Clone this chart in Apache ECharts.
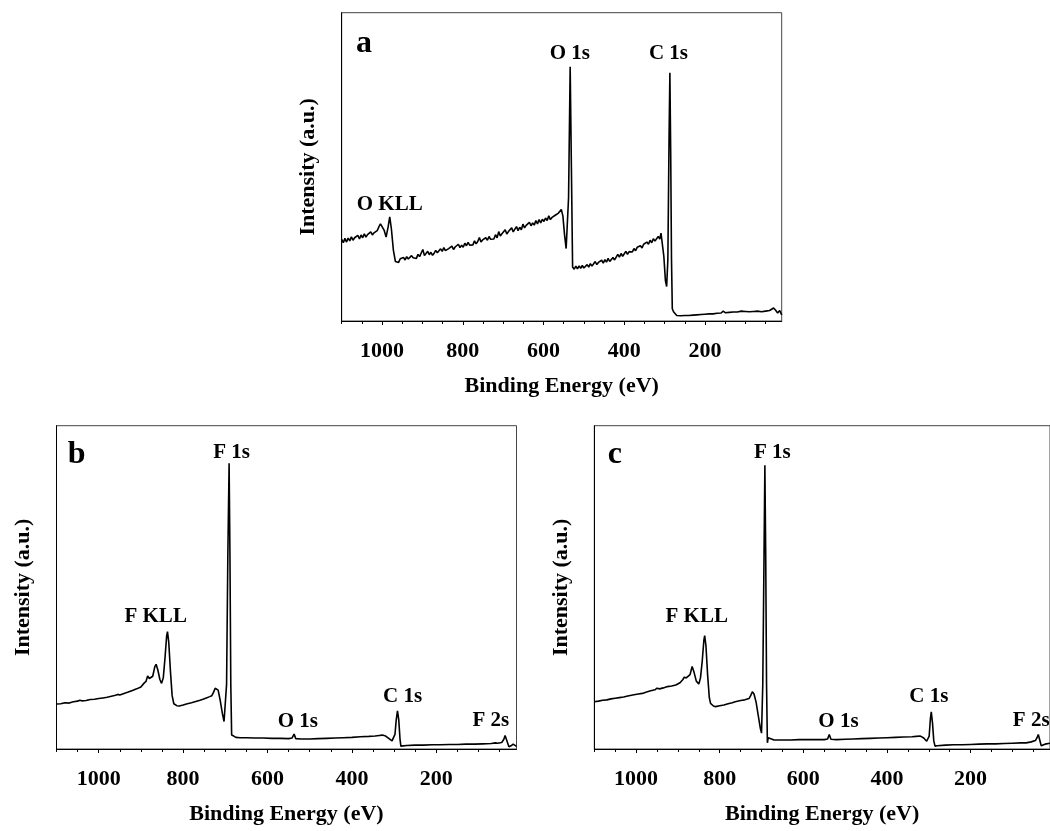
<!DOCTYPE html>
<html>
<head>
<meta charset="utf-8">
<script src="https://cdn.jsdelivr.net/npm/echarts@6/dist/echarts.min.js"></script>
<style>
html,body{margin:0;padding:0;background:#fff;}
#chart{width:1050px;height:831px;}
</style>
</head>
<body>
<div id="chart"></div>
<script>
// ---- data: [binding energy (eV), intensity (a.u., 0-100 scale)] ----
const spectrumA = [
[1100,26.5],[1096,25.4],[1092,26.8],[1088,25.6],[1084,26.9],[1080,26.0],[1076,27.3],[1072,26.2],[1068,27.0],[1064,26.4],
[1060,27.8],[1056,26.6],[1052,27.9],[1048,27.0],[1044,28.3],[1040,27.2],[1036,28.0],[1032,27.5],[1028,28.9],[1024,27.9],
[1020,28.6],[1016,28.2],[1012,29.3],[1008,30.5],[1004,31.5],[1000,30.9],[995,29.5],[990,27.2],[985,30.5],[981,33.8],
[977,30.0],[972,23.0],[967,19.3],[963,19.9],[959,19.0],[955,20.2],[951,19.6],[947,20.6],[943,19.8],[939,20.9],
[935,20.1],[931,20.4],[927,21.2],[923,20.5],[919,20.9],[915,20.3],[911,21.6],[907,20.9],[903,21.4],[899,23.2],
[895,21.2],[891,21.7],[887,22.6],[883,21.5],[879,22.3],[875,21.3],[871,22.0],[867,22.9],[863,22.1],[859,22.5],
[855,23.4],[851,22.6],[847,23.8],[843,22.8],[839,22.4],[835,23.5],[831,22.9],[827,24.3],[823,23.2],[819,24.0],
[815,23.6],[811,24.9],[807,23.8],[803,24.6],[799,23.9],[795,25.2],[791,24.4],[787,25.5],[783,24.6],[779,25.1],
[775,24.7],[771,26.0],[767,25.0],[763,25.8],[759,27.1],[755,25.6],[751,26.3],[747,25.8],[743,27.0],[739,26.2],
[735,27.4],[731,26.5],[727,27.1],[723,26.6],[719,28.0],[715,27.0],[711,29.0],[707,27.6],[703,28.3],[699,27.8],
[695,29.6],[691,28.2],[687,29.0],[683,28.4],[679,30.2],[675,28.9],[671,29.8],[667,30.6],[663,29.3],[659,30.4],
[655,29.6],[651,31.4],[647,30.2],[643,31.0],[639,30.4],[635,32.0],[631,30.9],[627,31.8],[623,31.1],[619,32.6],
[615,31.5],[611,32.9],[607,31.8],[603,33.0],[599,32.3],[595,33.4],[591,32.6],[587,34.1],[583,32.9],[579,33.6],
[575,33.0],[571,34.3],[567,33.8],[563,35.0],[559,35.6],[556,36.2],[552,34.0],[548,28.0],[544,23.5],[541,23.0],
[538,40.0],[534,82.5],[531,50.0],[528,17.5],[524,16.8],[520,17.8],[516,16.9],[512,17.9],[508,17.1],[504,18.0],
[500,17.2],[496,17.6],[492,18.3],[488,17.5],[484,18.6],[480,17.8],[476,18.4],[472,19.3],[468,18.3],[464,19.0],
[460,18.5],[456,19.7],[452,18.8],[448,19.9],[444,19.1],[440,20.3],[436,19.3],[432,19.8],[428,20.6],[424,19.8],
[420,20.4],[416,21.6],[412,20.7],[408,21.9],[404,21.0],[400,21.8],[396,22.6],[392,21.6],[388,22.5],[384,23.1],
[380,22.4],[376,23.5],[372,22.8],[368,23.9],[364,23.4],[360,24.4],[356,23.7],[352,24.9],[348,24.5],[344,25.6],
[340,24.9],[336,26.2],[332,25.4],[328,26.7],[324,25.9],[320,26.4],[316,27.4],[312,26.6],[309,28.5],[306,28.0],
[302,21.0],[298,13.0],[295,11.2],[292,20.0],[289,60.0],[287,80.5],[285,55.0],[283,20.0],[281,4.0],[278,3.0],
[275,2.5],[270,1.8],[260,1.7],[250,1.8],[240,1.8],[230,1.9],[220,2.0],[210,2.1],[200,2.2],[190,2.3],
[180,2.3],[170,2.5],[160,2.6],[155,3.2],[150,2.7],[140,2.8],[130,2.9],[120,2.9],[110,3.2],[107,3.8],
[100,3.1],[90,3.0],[80,3.1],[70,3.2],[60,3.0],[50,3.2],[40,3.4],[30,4.2],[25,3.5],[20,2.6],
[15,3.4],[10,2.0]
];
const spectrumB = [
[1100,13.9],[1090,14.0],[1080,14.3],[1070,14.2],[1060,14.6],[1050,14.8],[1045,15.1],[1040,14.9],[1030,15.0],[1020,15.3],
[1010,15.4],[1000,15.6],[990,15.8],[980,16.0],[970,16.3],[960,16.6],[955,16.9],[950,16.7],[940,17.2],[930,17.6],
[920,18.1],[910,18.6],[900,19.2],[893,20.3],[888,20.9],[884,22.6],[880,21.8],[877,21.3],[872,22.5],[867,25.5],
[864,26.2],[860,24.5],[855,21.5],[851,20.3],[847,22.0],[843,28.0],[839,35.0],[837,36.3],[834,33.0],[830,24.0],
[826,16.5],[822,14.0],[815,13.4],[809,13.3],[800,13.6],[790,14.0],[780,14.3],[770,14.7],[760,15.1],[753,15.4],
[745,15.8],[737,16.2],[732,16.5],[728,17.5],[724,18.8],[721,19.0],[717,18.2],[712,15.0],[707,11.0],[703,8.5],
[700,7.9],[697,20.0],[694,60.0],[691,88.4],[689,60.0],[687,20.0],[685,4.3],[683,4.6],[680,4.0],[675,3.6],
[665,3.5],[650,3.5],[630,3.4],[610,3.4],[590,3.3],[570,3.3],[550,3.2],[542,3.4],[537,4.6],[533,3.2],
[520,3.1],[500,3.1],[480,3.2],[460,3.3],[440,3.4],[420,3.5],[400,3.6],[380,3.8],[360,3.9],[345,4.0],
[335,4.2],[328,4.3],[320,4.0],[312,3.2],[305,2.5],[301,2.5],[298,4.5],[295,9.0],[292,11.8],[289,9.0],
[286,3.0],[284,0.9],[280,1.0],[270,1.1],[250,1.2],[230,1.2],[210,1.3],[190,1.3],[170,1.4],[150,1.4],
[130,1.5],[110,1.5],[90,1.6],[70,1.7],[60,1.9],[55,1.8],[45,2.0],[40,3.0],[37,4.2],[35,4.5],
[33,3.6],[30,1.5],[28,0.7],[23,1.0],[18,1.5],[14,1.0],[10,0.8]
];
const spectrumC = [
[1100,14.6],[1090,14.8],[1080,15.1],[1070,15.2],[1060,15.5],[1050,15.7],[1040,15.9],[1030,16.1],[1020,16.4],[1016,16.4],
[1005,16.8],[995,17.0],[985,17.2],[975,17.6],[965,18.0],[955,18.3],[950,18.8],[947,19.2],[944,18.6],[935,18.9],
[925,19.3],[915,19.5],[905,19.8],[895,20.5],[888,21.5],[885,22.2],[880,22.0],[876,21.5],[871,23.0],[866,25.5],
[862,24.0],[856,21.0],[850,20.1],[846,22.0],[842,27.0],[838,33.5],[836,35.1],[833,32.0],[829,23.0],[825,16.0],
[822,14.1],[815,13.3],[810,13.1],[800,13.4],[790,13.6],[780,14.0],[770,14.3],[763,14.6],[750,15.0],[740,15.2],
[730,15.6],[726,16.5],[722,17.7],[718,17.0],[713,14.5],[708,10.5],[703,6.5],[700,4.9],[697,20.0],[694,60.0],
[692,87.8],[690,60.0],[688,20.0],[686,1.9],[684,3.5],[680,3.0],[670,2.8],[650,2.8],[630,2.8],[610,2.9],
[590,2.9],[570,2.9],[550,2.9],[542,3.1],[538,4.5],[534,3.0],[520,2.9],[500,3.0],[480,3.1],[460,3.2],
[440,3.3],[420,3.4],[400,3.5],[380,3.6],[360,3.7],[340,3.8],[330,3.9],[320,4.0],[312,3.4],[305,2.4],
[302,1.9],[299,4.0],[296,9.5],[294,11.5],[291,8.0],[288,2.5],[285,0.9],[280,1.0],[260,1.2],[240,1.3],
[220,1.3],[200,1.4],[180,1.5],[160,1.6],[140,1.6],[120,1.7],[100,1.8],[80,1.9],[67,1.9],[55,2.2],
[45,2.6],[41,3.5],[38,4.5],[35,3.0],[31,1.0],[27,0.7],[22,1.5],[18,1.8],[10,1.8]
];
// peak annotations: [text, eV, intensity]
const labelsA = [['O KLL',981,37.9],['O 1s',535,86.8],['C 1s',290.5,86.8]];
const labelsB = [['F 1s',685,91.6],['F KLL',865,41.1],['O 1s',528,8.4],['C 1s',280,16.2],['F 2s',71,8.8]];
const labelsC = [['F 1s',674,91.6],['F KLL',855,41.1],['O 1s',516,8.4],['C 1s',300,16.2],['F 2s',55,8.8]];
const panelLetters = [['a',1045,89.8],['b',1052,90.9],['c',1051,90.9]];
// axis
const energyMin = 10, energyMax = 1100;
const majorTicks = [200,400,600,800,1000];
const minorTicks = [50,100,150,250,300,350,450,500,550,650,700,750,850,900,950,1050,1100];
const xTitle = 'Binding Energy (eV)';
const yTitle = 'Intensity (a.u.)';

const FONT = '"Liberation Serif", "Times New Roman", serif';
const grids = [
  {left:341.7, top:12.7, width:440, height:308.3},
  {left:56.5, top:425.7, width:460, height:323.3},
  {left:594.3, top:425.7, width:460, height:323.3}
];
const spectra = [spectrumA, spectrumB, spectrumC];
const labelSets = [labelsA, labelsB, labelsC];

const option = {
  animation:false,
  backgroundColor:'#fff',
  grid: grids.map(g => Object.assign({show:true, borderColor:'#444', borderWidth:1, backgroundColor:'transparent'}, g)),
  xAxis: [],
  yAxis: [],
  series: []
};
grids.forEach((g, i) => {
  option.xAxis.push({
    type:'value', gridIndex:i, position:'bottom', inverse:true, min:energyMin, max:energyMax,
    axisLine:{show:true, onZero:false, lineStyle:{color:'#000', width:1}},
    axisTick:{show:true, inside:false, length:4, customValues:majorTicks, lineStyle:{color:'#000', width:1}},
    axisLabel:{show:true, customValues:majorTicks, margin:19, color:'#000', fontSize:22, fontWeight:'bold', fontFamily:FONT,
      formatter: v => String(v)},
    splitLine:{show:false},
    name:xTitle, nameLocation:'middle', nameGap:54,
    nameTextStyle:{color:'#000', fontSize:22, fontWeight:'bold', fontFamily:FONT}
  });
  option.xAxis.push({
    type:'value', gridIndex:i, position:'bottom', inverse:true, min:energyMin, max:energyMax,
    axisLine:{show:false, onZero:false},
    axisTick:{show:true, inside:false, length:3, customValues:minorTicks, lineStyle:{color:'#000', width:1}},
    axisLabel:{show:false},
    splitLine:{show:false}
  });
  option.yAxis.push({
    type:'value', gridIndex:i, min:0, max:100,
    axisLine:{show:true, lineStyle:{color:'#000', width:1}},
    axisTick:{show:false}, axisLabel:{show:false}, splitLine:{show:false},
    name:yTitle, nameLocation:'middle', nameGap:22, nameRotate:90,
    nameTextStyle:{color:'#000', fontSize:22, fontWeight:'bold', fontFamily:FONT}
  });
  const marks = labelSets[i].map(l => ({name:l[0], coord:[l[1], l[2]]}));
  const pl = panelLetters[i];
  marks.push({name:pl[0], coord:[pl[1], pl[2]], label:{fontSize:32}});
  option.series.push({
    type:'line', xAxisIndex:i*2, yAxisIndex:i, data:spectra[i],
    showSymbol:false, symbol:'none', smooth:false,
    lineStyle:{color:'#000', width:1.6},
    markPoint:{
      symbol:'circle', symbolSize:0, silent:true,
      itemStyle:{color:'transparent'},
      label:{show:true, position:'inside', formatter:'{b}', color:'#000', fontSize:21, fontWeight:'bold', fontFamily:FONT},
      data:marks
    }
  });
});
const chart = echarts.init(document.getElementById('chart'), null, {renderer:'canvas'});
chart.setOption(option);
</script>
</body>
</html>
